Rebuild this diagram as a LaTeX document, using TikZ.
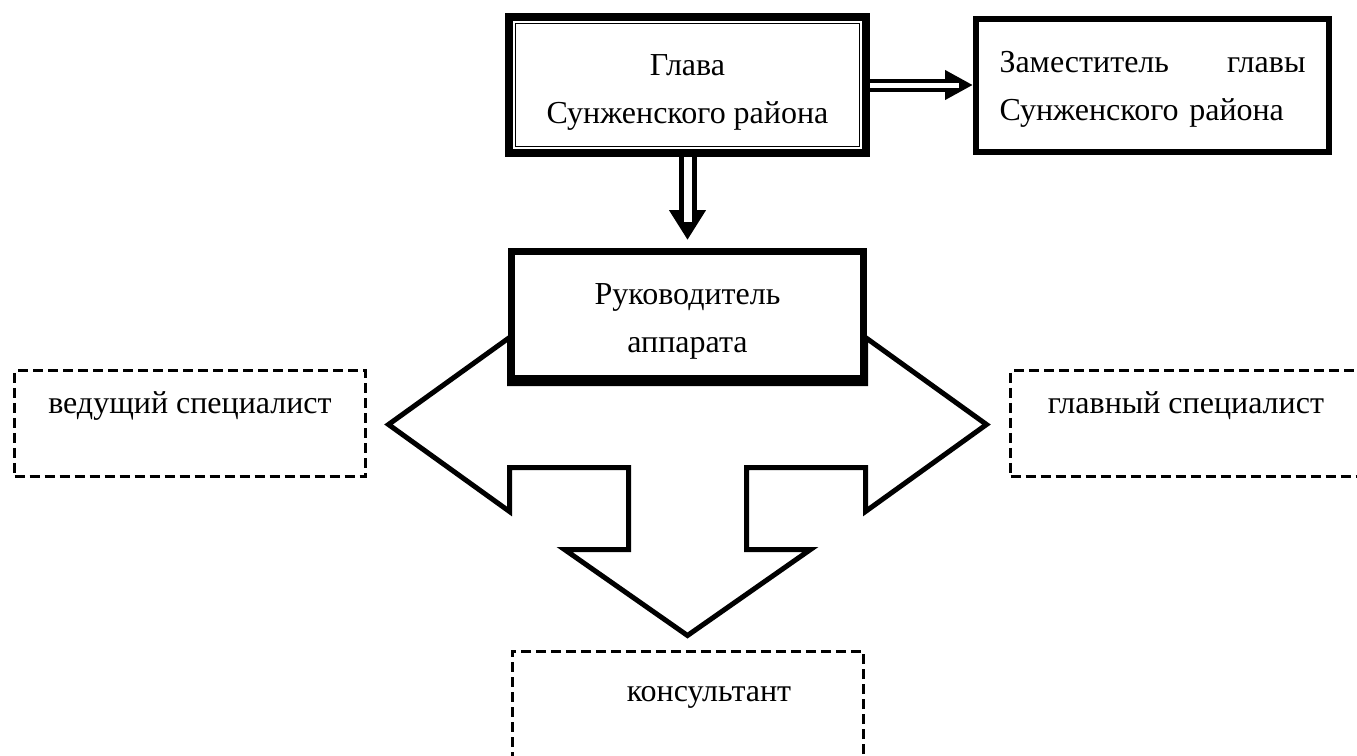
\documentclass[tikz,border=0pt]{standalone}
\usepackage{fontspec}
\setmainfont{Liberation Serif}
\usetikzlibrary{positioning,arrows.meta}

\tikzset{
  chief/.style={draw, line width=4pt, fill=white, align=center, inner sep=0pt,
    minimum width=178.5pt, minimum height=68pt, text height=53pt, text depth=15pt},
  deputy/.style={draw, line width=3pt, fill=white, align=left, text width=153pt,
    inner sep=0pt, minimum width=176.5pt, minimum height=66.5pt,
    text height=27pt, text depth=39.5pt},
  office/.style={draw, line width=3.5pt, fill=white, align=center, inner sep=0pt,
    minimum width=176pt, minimum height=63.25pt, text height=50.25pt, text depth=13pt},
  staff/.style={draw, line width=1.5pt, dash pattern=on 5pt off 2.5pt, inner sep=0pt,
    minimum width=175.5pt, minimum height=53pt, text height=21.5pt, text depth=31.5pt},
  fatarrow/.style={line width=6.5pt, -{Triangle[length=14pt,width=14pt]},
    postaction={draw=white, line width=2.5pt, -, shorten >=7pt}},
  fatdown/.style={line width=9pt, -{Triangle[length=15pt,width=17.5pt]}, shorten >=4pt,
    postaction={draw=white, line width=4pt, -, shorten >=13pt}},
  fork/.style={line width=2.5pt, line join=miter}
}

\begin{document}
\begin{tikzpicture}[x=0.5pt, y=-0.5pt, font=\fontsize{16pt}{24pt}\selectfont]
  \useasboundingbox (0,0) rectangle (1357,756);

  % Nodes
  \node[chief] (glava) at (687.5,85) {Глава\\Сунженского района};
  \draw[line width=0.75pt] ([shift={(10.5,10.5)}]glava.north west)
    rectangle ([shift={(-10.5,-10.5)}]glava.south east);
  \node[deputy, right=51.5pt of glava] (zam) {Заместитель\hfill главы\\Сунженского района};
  \node[office, below=45.5pt of glava] (ruk) {Руководитель\\аппарата};

  \node[staff, left=70.5pt of ruk, yshift=-54.5pt] (ved) {ведущий специалист};
  \node[staff, right=71pt of ruk, yshift=-54.5pt] (glav) {главный специалист};
  \node[staff, below=134pt of ruk, minimum height=56pt, text height=25pt, text depth=31pt] (kons)
    {\hspace*{21.5pt}консультант};

  % Arrows
  \draw[fatarrow] (glava.east) -- (zam.west);
  \draw[fatdown] (glava.south) -- (ruk.north);

  % Fork
  \begin{scope}[shift={(ruk.south)}]
    \draw[fork] (-299,43) -- (-178,-44) -- (-178,2) -- (178,2) -- (178,-44)
      -- (299,43) -- (178,130) -- (178,86) -- (59,86) -- (59,168) -- (123,168)
      -- (0,254) -- (-123,168) -- (-59,168) -- (-59,86) -- (-178,86)
      -- (-178,130) -- cycle;
  \end{scope}
\end{tikzpicture}
\end{document}
